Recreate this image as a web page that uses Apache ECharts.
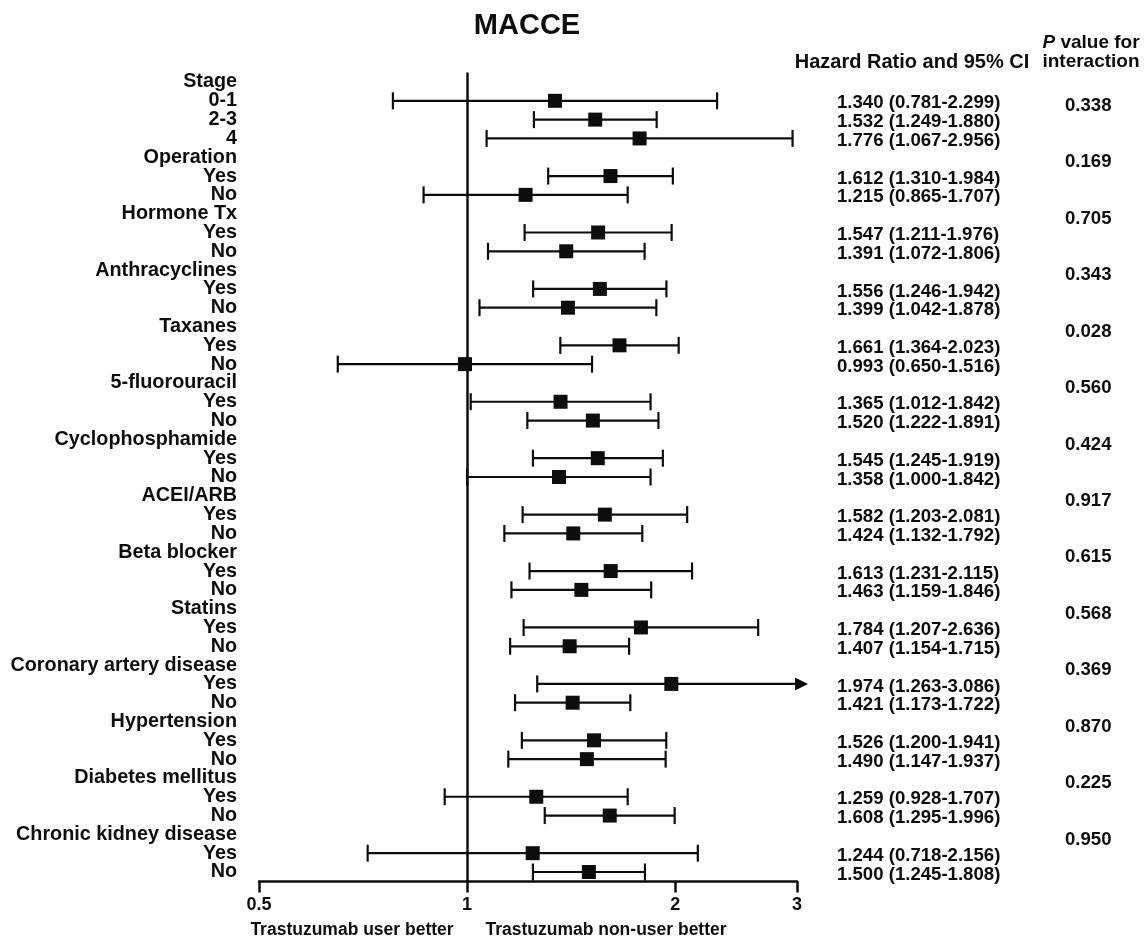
<!DOCTYPE html>
<html><head><meta charset="utf-8">
<script src="https://cdn.jsdelivr.net/npm/echarts@6/dist/echarts.min.js"></script>
<style>html,body{margin:0;padding:0;background:#fff}#c{width:1146px;height:942px}</style>
</head><body><div id="c"></div>
<script>
const rowLabels = ['Stage','0-1','2-3','4','Operation','Yes','No','Hormone Tx','Yes','No','Anthracyclines','Yes','No','Taxanes','Yes','No','5-fluorouracil','Yes','No','Cyclophosphamide','Yes','No','ACEI/ARB','Yes','No','Beta blocker','Yes','No','Statins','Yes','No','Coronary artery disease','Yes','No','Hypertension','Yes','No','Diabetes mellitus','Yes','No','Chronic kidney disease','Yes','No'];
const hr    = [null,1.340,1.532,1.776,null,1.612,1.215,null,1.547,1.391,null,1.556,1.399,null,1.661,0.993,null,1.365,1.520,null,1.545,1.358,null,1.582,1.424,null,1.613,1.463,null,1.784,1.407,null,1.974,1.421,null,1.526,1.490,null,1.259,1.608,null,1.244,1.500];
const lower = [null,0.781,1.249,1.067,null,1.310,0.865,null,1.211,1.072,null,1.246,1.042,null,1.364,0.650,null,1.012,1.222,null,1.245,1.000,null,1.203,1.132,null,1.231,1.159,null,1.207,1.154,null,1.263,1.173,null,1.200,1.147,null,0.928,1.295,null,0.718,1.245];
const upper = [null,2.299,1.880,2.956,null,1.984,1.707,null,1.976,1.806,null,1.942,1.878,null,2.023,1.516,null,1.842,1.891,null,1.919,1.842,null,2.081,1.792,null,2.115,1.846,null,2.636,1.715,null,3.086,1.722,null,1.941,1.937,null,1.707,1.996,null,2.156,1.808];
const pValues = ['','0.338','','','0.169','','','0.705','','','0.343','','','0.028','','','0.560','','','0.424','','','0.917','','','0.615','','','0.568','','','0.369','','','0.870','','','0.225','','','0.950','',''];
const xTicks = [0.5, 1, 2, 3];
const xMin = 0.5, xMax = 3;
const refValue = 1;

const L = v => Math.log2(v);
const ink = '#0d0d0d';
const FF = 'Arial, "Liberation Sans", Helvetica, sans-serif';

const ciData = [], pointData = [];
hr.forEach((h, i) => {
  if (h != null) {
    ciData.push([L(lower[i]), L(upper[i]), i]);
    pointData.push([L(h), i]);
  }
});
const hrText = i => hr[i] == null ? '' :
  hr[i].toFixed(3) + ' (' + lower[i].toFixed(3) + '-' + upper[i].toFixed(3) + ')';

function renderCI(params, api) {
  const lo = api.value(0), hi = api.value(1), row = api.value(2);
  const maxL = L(xMax);
  const clipped = hi > maxL;
  const p0 = api.coord([lo, row]);
  const p1 = api.coord([Math.min(hi, maxL), row]);
  const cap = 8.5;
  const st = { stroke: ink, lineWidth: 2.2 };
  const ch = [
    { type: 'line', shape: { x1: p0[0], y1: p0[1], x2: p1[0], y2: p1[1] }, style: st },
    { type: 'line', shape: { x1: p0[0], y1: p0[1] - cap, x2: p0[0], y2: p0[1] + cap }, style: st }
  ];
  if (clipped) {
    ch.push({ type: 'polygon', shape: { points: [[p1[0] - 2, p1[1] - 6.5], [p1[0] + 11, p1[1]], [p1[0] - 2, p1[1] + 6.5]] }, style: { fill: ink } });
  } else {
    ch.push({ type: 'line', shape: { x1: p1[0], y1: p1[1] - cap, x2: p1[0], y2: p1[1] + cap }, style: st });
  }
  return { type: 'group', children: ch };
}

const chart = echarts.init(document.getElementById('c'));
chart.setOption({
  animation: false,
  backgroundColor: '#fff',
  title: {
    text: 'MACCE', left: 522, top: 6, textAlign: 'center',
    textStyle: { fontSize: 29, fontWeight: 'bold', color: ink, fontFamily: FF }
  },
  grid: { left: 259, right: 349, top: 72.6, bottom: 60.6, containLabel: false, outerBoundsMode: 'none' },
  xAxis: {
    type: 'value', min: L(xMin), max: L(xMax),
    splitLine: { show: false },
    axisLine: { show: true, lineStyle: { color: ink, width: 2.5 } },
    axisTick: { show: true, customValues: xTicks.map(L), length: 11, lineStyle: { color: ink, width: 2.5 } },
    axisLabel: {
      show: true, customValues: xTicks.map(L), margin: 15,
      formatter: v => { const t = xTicks.find(t => Math.abs(L(t) - v) < 1e-6); return t == null ? '' : String(t); },
      color: ink, fontSize: 18, fontWeight: 'bold', fontFamily: FF
    }
  },
  yAxis: [
    {
      type: 'category', data: rowLabels, inverse: true,
      axisLine: { show: false }, axisTick: { show: false }, splitLine: { show: false },
      axisLabel: { interval: 0, margin: 22, color: ink, fontSize: 19.8, fontWeight: 'bold', fontFamily: FF }
    },
    {
      type: 'category', data: rowLabels, inverse: true, position: 'right',
      axisLine: { show: false }, axisTick: { show: false }, splitLine: { show: false },
      axisLabel: { interval: 0, margin: 40, formatter: (v, i) => hr[i] == null ? '' : '{t|' + hrText(i) + '}',
        rich: { t: { padding: [5, 0, 0, 0], color: ink, fontSize: 18.6, fontWeight: 'bold', fontFamily: FF } },
        color: ink, fontSize: 18.6, fontWeight: 'bold', fontFamily: FF }
    },
    {
      type: 'category', data: rowLabels, inverse: true, position: 'right', offset: 268,
      axisLine: { show: false }, axisTick: { show: false }, splitLine: { show: false },
      axisLabel: { interval: 0, margin: 0, formatter: (v, i) => pValues[i] ? '{p|' + pValues[i] + '}' : '',
        rich: { p: { padding: [10, 0, 0, 0], color: ink, fontSize: 18.6, fontWeight: 'bold', fontFamily: FF } },
        color: ink, fontSize: 18.6, fontWeight: 'bold', fontFamily: FF }
    }
  ],
  graphic: [
    { type: 'text', style: { text: 'Hazard Ratio and 95% CI', x: 912, y: 62, align: 'center', verticalAlign: 'middle', fill: ink, font: 'bold 20px ' + FF } },
    { type: 'text', style: { text: '{i|P} value for', x: 1091, y: 43, align: 'center', verticalAlign: 'middle', fill: ink, font: 'bold 19px ' + FF,
      rich: { i: { fontStyle: 'italic', fontWeight: 'bold', fontSize: 19, fontFamily: FF, fill: ink } } } },
    { type: 'text', style: { text: 'interaction', x: 1091, y: 62, align: 'center', verticalAlign: 'middle', fill: ink, font: 'bold 19px ' + FF } },
    { type: 'text', style: { text: 'Trastuzumab user better', x: 352, y: 930, align: 'center', verticalAlign: 'middle', fill: ink, font: 'bold 17.5px ' + FF } },
    { type: 'text', style: { text: 'Trastuzumab non-user better', x: 606, y: 930, align: 'center', verticalAlign: 'middle', fill: ink, font: 'bold 17.5px ' + FF } }
  ],
  series: [
    {
      type: 'custom', renderItem: renderCI, data: ciData, clip: false,
      encode: { x: [0, 1], y: 2 }, silent: true, z: 2
    },
    {
      type: 'scatter', data: pointData, symbol: 'rect', symbolSize: 14,
      itemStyle: { color: ink, opacity: 1 }, silent: true, z: 3,
      markLine: {
        silent: true, symbol: ['none', 'none'], label: { show: false },
        lineStyle: { color: ink, width: 2.5, type: 'solid' },
        data: [{ xAxis: L(refValue) }]
      }
    }
  ]
});
</script></body></html>
